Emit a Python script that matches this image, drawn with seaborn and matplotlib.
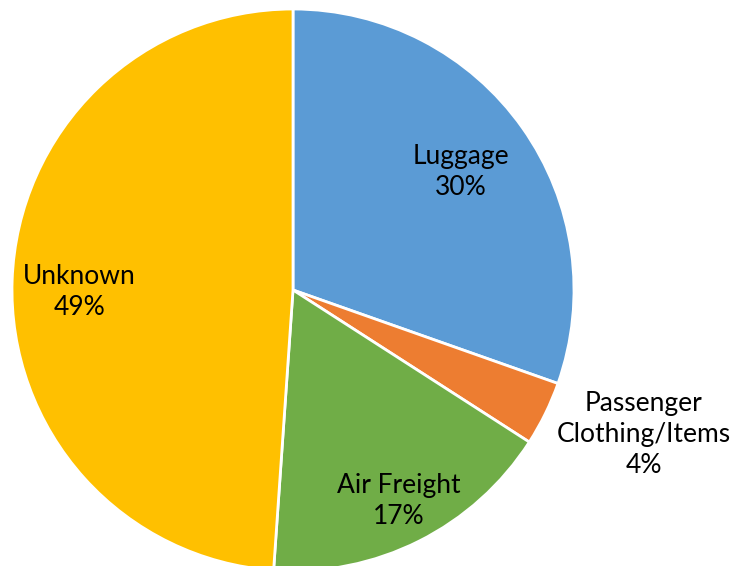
import numpy as np
import matplotlib
matplotlib.use("Agg")
import matplotlib.pyplot as plt
import seaborn as sns

# slice data, clockwise from 12 o'clock
categories = ["Luggage", "Passenger\nClothing/Items", "Air Freight", "Unknown"]
shares = [30.4, 3.7, 17.0, 48.9]
colors = ["#5B9BD5", "#ED7D31", "#70AD47", "#FFC000"]
# label placement: radial distance and angular nudge (deg)
label_dist = [0.73, 1.35, 0.84, 0.76]
label_shift = [0, 3.7, 0, 2.5]

sns.set_theme(style="white")
plt.rcParams["font.family"] = ["Lato", "DejaVu Sans"]

W, H = 739, 566
fig = plt.figure(figsize=(W / 100, H / 100), dpi=100)
cx, cy, r = 293, 276, 281  # pixel centre (from bottom) and radius
ax = fig.add_axes([(cx - r) / W, (cy - r) / H, 2 * r / W, 2 * r / H])

wedges, _ = ax.pie(shares, colors=colors, startangle=90, counterclock=False,
                   radius=1, wedgeprops=dict(edgecolor="white", linewidth=2))

for w, name, val, d, s in zip(wedges, categories, shares, label_dist, label_shift):
    mid = np.deg2rad((w.theta1 + w.theta2) / 2 + s)
    ax.text(d * np.cos(mid), d * np.sin(mid), f"{name}\n{round(val)}%",
            ha="center", va="center", fontsize=19, color="black",
            linespacing=1.3)

ax.set_xlim(-1, 1)
ax.set_ylim(-1, 1)
ax.set_aspect("equal")
ax.axis("off")
fig.savefig("out.png", dpi=100)
